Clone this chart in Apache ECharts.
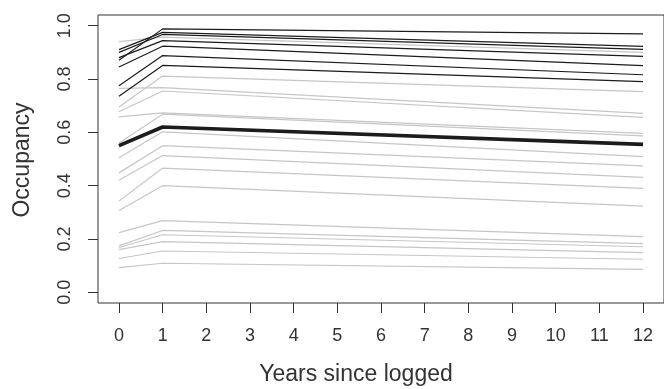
<!DOCTYPE html>
<html>
<head>
<meta charset="utf-8">
<script src="https://cdn.jsdelivr.net/npm/echarts@6/dist/echarts.min.js"></script>
<style>
 html, body { margin: 0; padding: 0; background: #fff; }
 #chart { width: 664px; height: 389px; }
</style>
</head>
<body>
<div id="chart"></div>
<script>
// x positions where each trajectory is known
const years = [0, 1, 12];
const xTicks = [0, 1, 2, 3, 4, 5, 6, 7, 8, 9, 10, 11, 12];
const yTicks = [0, 0.2, 0.4, 0.6, 0.8, 1.0];

// light grey site trajectories: value at year 0, year 1, year 12
const greyY0  = [0.940, 0.695, 0.765, 0.677, 0.658, 0.560, 0.505, 0.448, 0.420, 0.342, 0.307, 0.224, 0.174, 0.168, 0.160, 0.127, 0.093];
const greyY1  = [0.957, 0.811, 0.768, 0.755, 0.673, 0.668, 0.602, 0.550, 0.513, 0.466, 0.400, 0.269, 0.232, 0.216, 0.190, 0.155, 0.109];
const greyY12 = [0.900, 0.753, 0.671, 0.656, 0.596, 0.587, 0.509, 0.474, 0.431, 0.390, 0.323, 0.209, 0.183, 0.171, 0.149, 0.124, 0.086];

// dark trajectories
const blackY0  = [0.870, 0.910, 0.900, 0.880, 0.845, 0.775, 0.735];
const blackY1  = [0.988, 0.975, 0.967, 0.944, 0.923, 0.888, 0.851];
const blackY12 = [0.969, 0.922, 0.911, 0.885, 0.850, 0.816, 0.790];

// thick average line
const meanY = [0.550, 0.620, 0.555];

const chart = echarts.init(document.getElementById('chart'), null, { renderer: 'canvas' });

const toPoints = (vals) => years.map((x, i) => [x, vals[i]]);

const series = [];
greyY0.forEach((v, i) => {
 series.push({
 type: 'line',
 data: toPoints([greyY0[i], greyY1[i], greyY12[i]]),
 symbol: 'none',
 silent: true,
 lineStyle: { color: '#c6c6c6', width: 1.2 },
 z: 2,
 });
});
blackY0.forEach((v, i) => {
 series.push({
 type: 'line',
 data: toPoints([blackY0[i], blackY1[i], blackY12[i]]),
 symbol: 'none',
 silent: true,
 lineStyle: { color: '#1c1c1c', width: 1.2 },
 z: 3,
 });
});
series.push({
 type: 'line',
 data: toPoints(meanY),
 symbol: 'none',
 silent: true,
 lineStyle: { color: '#1c1c1c', width: 3.6 },
 z: 4,
});

const fontFamily = 'Liberation Sans, Arial, sans-serif';

const option = {
 backgroundColor: '#fff',
 animation: false,
 grid: {
 left: 98,
 right: -6,
 top: 15,
 bottom: 86,
 show: true,
 borderColor: '#333',
 borderWidth: 1,
 },
 xAxis: {
 type: 'value',
 min: -0.48,
 max: 12.48,
 splitLine: { show: false },
 axisLine: { show: false, onZero: false },
 axisTick: { show: true, customValues: xTicks, length: 10, lineStyle: { color: '#333' } },
 axisLabel: {
 customValues: xTicks,
 margin: 24,
 color: '#333',
 fontSize: 18,
 fontFamily,
 },
 },
 yAxis: {
 type: 'value',
 min: -0.04,
 max: 1.04,
 splitLine: { show: false },
 axisLine: { show: false, onZero: false },
 axisTick: { show: true, customValues: yTicks, length: 10, lineStyle: { color: '#333' } },
 axisLabel: {
 customValues: yTicks,
 rotate: 90,
 margin: 24,
 color: '#333',
 fontSize: 18,
 fontFamily,
 formatter: (v) => v.toFixed(1),
 },
 },
 graphic: [
 {
 type: 'text',
 x: 23,
 y: 160,
 rotation: Math.PI / 2,
 style: {
 text: 'Occupancy',
 fill: '#333',
 font: '23px ' + fontFamily,
 textAlign: 'center',
 textVerticalAlign: 'middle',
 },
 },
 {
 type: 'text',
 x: 356,
 y: 375,
 style: {
 text: 'Years since logged',
 fill: '#333',
 font: '23px ' + fontFamily,
 textAlign: 'center',
 textVerticalAlign: 'middle',
 },
 },
 ],
 series,
};

chart.setOption(option);
</script>
</body>
</html>
